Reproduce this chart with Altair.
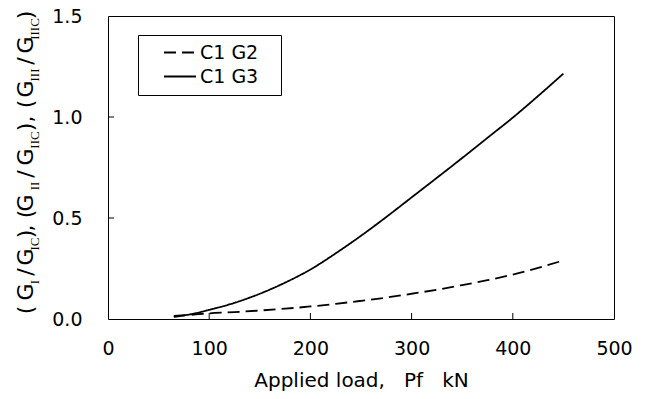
import altair as alt
import pandas as pd

# ---- data ----
load = [65, 80, 100, 125, 150, 175, 200, 225, 250, 275, 300, 325, 350, 375, 400, 425, 450]
g2 = [0.015, 0.02, 0.028, 0.034, 0.042, 0.051, 0.062, 0.075, 0.09, 0.106, 0.125,
      0.145, 0.168, 0.192, 0.22, 0.253, 0.29]
g3 = [0.01, 0.022, 0.045, 0.08, 0.125, 0.18, 0.245, 0.325, 0.412, 0.505, 0.602,
      0.699, 0.797, 0.897, 0.997, 1.104, 1.215]
series = ["C1 G2", "C1 G3"]
x_ticks = [0, 100, 200, 300, 400, 500]
y_ticks = [0.0, 0.5, 1.0, 1.5]
x_inner_ticks = [100, 200, 300, 400]
y_inner_ticks = [0.5, 1.0]
x_title = "Applied load,\u00a0\u00a0\u00a0Pf\u00a0\u00a0\u00a0kN"

# y-axis title pieces (text, centre along the axis in page px)
title_main = ["(", "G", "/", "G", ")", ",", "(", "G", "/", "G", ")", ",", "(", "G", "/", "G", ")"]
title_main_pos = [310, 292, 272, 257, 234, 228, 214, 203, 174, 157, 127, 119, 104, 89, 61, 45, 15]
title_sub = ["I", "IC", "II", "IIC", "III", "IIIC"]
title_sub_pos = [282, 244, 186, 140, 75, 29]

FONT = "DejaVu Sans"
W, H = 506, 303
LEFT, TOP = 108, 16

rows = []
for s, vals in zip(series, [g2, g3]):
    for x, v in zip(load, vals):
        rows.append({"load": x, "val": v, "series": s})
df = pd.DataFrame(rows)

xscale = alt.Scale(domain=[0, 500], nice=False, zero=False)
yscale = alt.Scale(domain=[0, 1.5], nice=False, zero=False)

xaxis = alt.Axis(values=x_ticks, format="d", labelFont=FONT, labelFontSize=19,
                 labelColor="black", ticks=False, tickSize=0, domain=False, grid=False,
                 labelPadding=20, labelFlush=False, labelOverlap=False,
                 title=x_title, titleFont=FONT, titleFontSize=20,
                 titleFontWeight="normal", titleColor="black", titlePadding=12)
yaxis = alt.Axis(values=y_ticks, format=".1f", labelFont=FONT, labelFontSize=19,
                 labelColor="black", ticks=False, tickSize=0, domain=False, grid=False,
                 labelPadding=26, labelFlush=False, labelOverlap=False, title=None)

lines = alt.Chart(df).mark_line(color="black", strokeWidth=1.8, interpolate="monotone").encode(
    x=alt.X("load:Q", scale=xscale, axis=xaxis),
    y=alt.Y("val:Q", scale=yscale, axis=yaxis),
    strokeDash=alt.StrokeDash("series:N",
                              scale=alt.Scale(domain=series, range=[[12, 6], [1, 0]]),
                              legend=alt.Legend(orient="none", legendX=30, legendY=19, title=None,
                                                strokeColor="black", fillColor="white",
                                                padding=8, symbolType="stroke", symbolSize=1024,
                                                symbolStrokeWidth=1.8, symbolStrokeColor="black",
                                                symbolOffset=17, labelOffset=3, rowPadding=4,
                                                clipHeight=19,
                                                labelExpr="datum.label + '\u2800'",
                                                labelFont=FONT, labelFontSize=19,
                                                labelColor="black")),
)

xt = alt.Chart(pd.DataFrame({"load": x_inner_ticks})).mark_rule(color="black", strokeWidth=1).encode(
    x=alt.X("load:Q", scale=xscale, axis=xaxis),
    y=alt.value(H), y2=alt.value(H - 6),
)
yt = alt.Chart(pd.DataFrame({"val": y_inner_ticks})).mark_rule(color="black", strokeWidth=1).encode(
    y=alt.Y("val:Q", scale=yscale, axis=yaxis),
    x=alt.value(0), x2=alt.value(6),
)

main_df = pd.DataFrame({"t": title_main, "py": [p - TOP for p in title_main_pos],
                        "px": [33 - LEFT] * len(title_main)})
sub_df = pd.DataFrame({"t": title_sub, "py": [p - TOP for p in title_sub_pos],
                       "px": [39 - LEFT] * len(title_sub)})

tmain = alt.Chart(main_df).mark_text(angle=270, align="center", baseline="alphabetic",
                                     font=FONT, fontSize=22, color="black").encode(
    x=alt.X("px:Q", scale=None, axis=None), y=alt.Y("py:Q", scale=None, axis=None), text="t:N")
tsub = alt.Chart(sub_df).mark_text(angle=270, align="center", baseline="alphabetic",
                                   font="Liberation Serif", fontSize=13, color="black").encode(
    x=alt.X("px:Q", scale=None, axis=None), y=alt.Y("py:Q", scale=None, axis=None), text="t:N")

plot = alt.layer(lines, xt, yt)
titles = alt.layer(tmain, tsub)

chart = alt.layer(plot, titles).resolve_scale(x="independent", y="independent").properties(
    width=W, height=H,
    padding={"left": LEFT, "top": TOP, "right": 645 - LEFT - W, "bottom": 399 - TOP - H},
    autosize=alt.AutoSizeParams(type="none"),
).configure_view(stroke="black", strokeWidth=1)

chart.save("out.html", embed_options={"renderer": "svg", "actions": False})
